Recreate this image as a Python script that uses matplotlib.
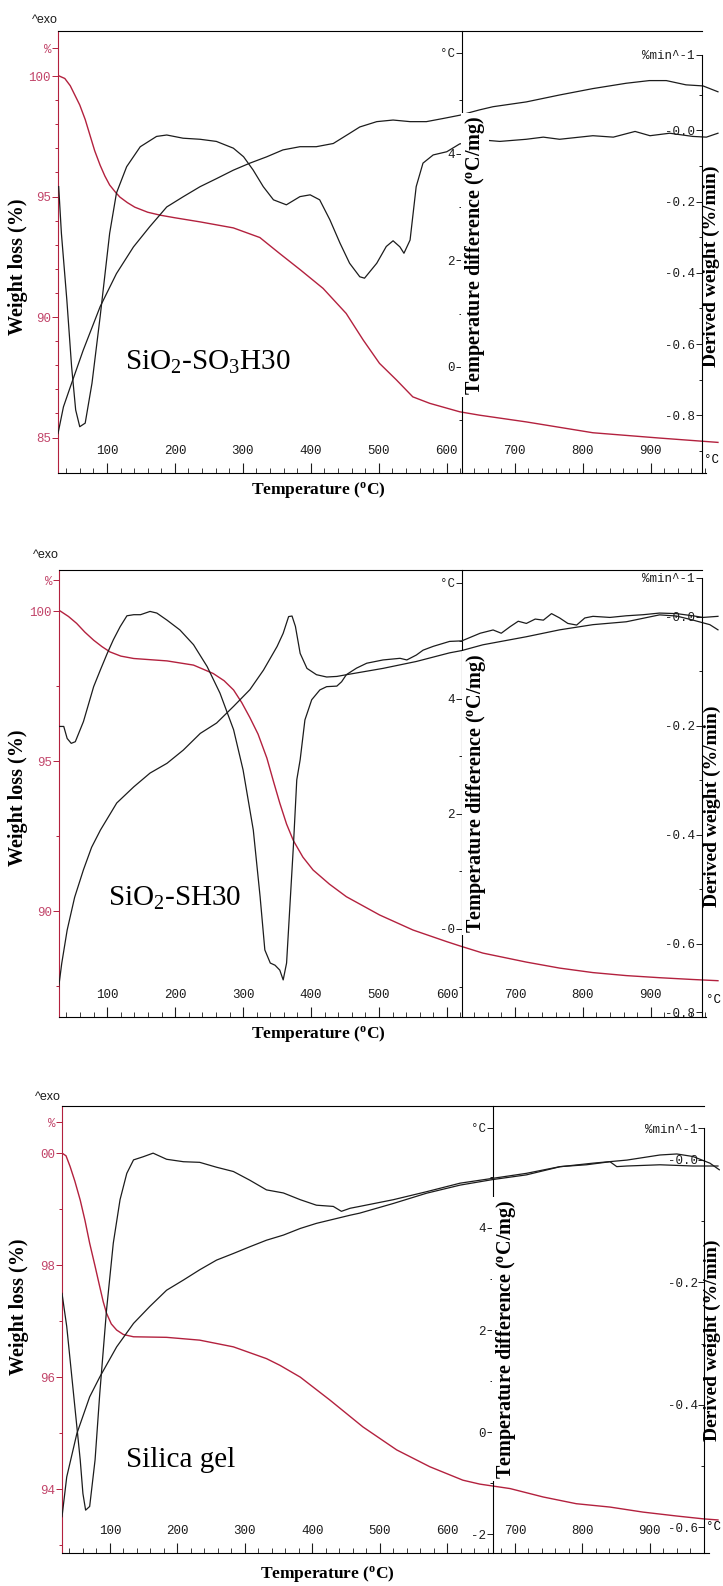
import numpy as np
import matplotlib.pyplot as plt

plt.rcParams['font.family'] = ['Liberation Mono', 'DejaVu Sans Mono']
plt.rcParams['mathtext.fontset'] = 'custom'
plt.rcParams['mathtext.rm'] = 'Liberation Serif'
plt.rcParams['mathtext.bf'] = 'Liberation Serif:bold'
plt.rcParams['mathtext.it'] = 'Liberation Serif:italic'

W, H = 723, 1586
RED = '#b3213e'
RED_TXT = '#c2456a'
INK = '#1c1c1c'
SERIF = 'Liberation Serif'

# ---------------- data (temperature in degC) ----------------
# panel 1 : SiO2-SO3H30
tga1_t = [30, 38, 46, 53, 60, 68, 75, 82, 90, 97, 104, 112, 119, 130, 141, 160, 178, 200, 237, 286, 325, 354, 385, 418, 452, 477, 501, 526, 550, 575, 619, 648, 717, 815, 913, 999]
tga1_w = [100.0, 99.9, 99.6, 99.2, 98.8, 98.2, 97.55, 96.9, 96.3, 95.85, 95.48, 95.2, 94.98, 94.75, 94.56, 94.35, 94.23, 94.12, 93.95, 93.7, 93.3, 92.64, 91.95, 91.19, 90.15, 89.05, 88.08, 87.39, 86.69, 86.42, 86.07, 85.93, 85.65, 85.2, 84.98, 84.8]
dtg1_t = [29, 33, 41, 48, 54, 60, 68, 78, 90, 104, 114, 129, 149, 173, 188, 212, 237, 261, 286, 301, 315, 330, 345, 364, 384, 399, 413, 428, 443, 457, 472, 479, 497, 511, 521, 531, 537, 546, 555, 565, 580, 600, 619, 653, 678, 717, 742, 766, 815, 845, 877, 899, 928, 962, 982, 999]
dtg1_g = [-0.158, -0.289, -0.476, -0.663, -0.785, -0.832, -0.822, -0.710, -0.523, -0.289, -0.176, -0.102, -0.046, -0.017, -0.013, -0.022, -0.025, -0.031, -0.050, -0.074, -0.111, -0.158, -0.195, -0.209, -0.186, -0.181, -0.195, -0.251, -0.317, -0.373, -0.411, -0.415, -0.373, -0.326, -0.310, -0.327, -0.345, -0.308, -0.158, -0.092, -0.069, -0.060, -0.038, -0.027, -0.031, -0.025, -0.019, -0.025, -0.015, -0.019, -0.003, -0.015, -0.008, -0.017, -0.019, -0.008]
dta1_t = [28, 36, 46, 65, 90, 114, 139, 163, 188, 212, 237, 261, 286, 310, 335, 359, 384, 408, 433, 457, 472, 497, 521, 546, 570, 595, 619, 648, 668, 717, 766, 815, 864, 898, 923, 952, 977, 999]
dta1_d = [-1.25, -0.75, -0.38, 0.31, 1.13, 1.75, 2.25, 2.63, 3.00, 3.19, 3.38, 3.53, 3.69, 3.82, 3.94, 4.07, 4.13, 4.13, 4.19, 4.38, 4.50, 4.60, 4.63, 4.60, 4.60, 4.66, 4.72, 4.82, 4.88, 4.97, 5.10, 5.22, 5.32, 5.37, 5.37, 5.29, 5.27, 5.16]

# panel 2 : SiO2-SH30
tga2_t = [31, 43, 55, 67, 80, 92, 104, 120, 139, 188, 227, 256, 272, 286, 298, 310, 322, 335, 345, 354, 364, 374, 388, 403, 427, 452, 501, 550, 600, 619, 653, 717, 766, 815, 864, 913, 962, 999]
tga2_w = [100.0, 99.82, 99.59, 99.3, 99.03, 98.82, 98.64, 98.5, 98.42, 98.34, 98.2, 97.92, 97.68, 97.37, 96.95, 96.45, 95.9, 95.1, 94.3, 93.6, 92.9, 92.35, 91.8, 91.37, 90.9, 90.48, 89.87, 89.37, 88.98, 88.84, 88.6, 88.3, 88.1, 87.95, 87.85, 87.78, 87.72, 87.68]
dtg2_t = [28, 36, 41, 47, 53, 65, 80, 90, 100, 109, 119, 129, 139, 149, 163, 173, 188, 207, 227, 247, 266, 286, 300, 315, 325, 332, 340, 347, 354, 359, 364, 374, 379, 384, 391, 401, 413, 423, 438, 445, 452, 467, 482, 506, 531, 541, 555, 565, 580, 604, 622, 649, 668, 680, 693, 705, 717, 730, 742, 754, 766, 778, 791, 803, 815, 840, 864, 889, 913, 938, 962, 977, 999]
dtg2_g = [-0.201, -0.201, -0.223, -0.232, -0.229, -0.192, -0.128, -0.097, -0.067, -0.042, -0.018, 0.002, 0.004, 0.004, 0.010, 0.007, -0.006, -0.024, -0.051, -0.091, -0.140, -0.207, -0.281, -0.391, -0.513, -0.611, -0.635, -0.639, -0.648, -0.666, -0.635, -0.421, -0.299, -0.262, -0.189, -0.152, -0.134, -0.128, -0.127, -0.119, -0.106, -0.094, -0.085, -0.079, -0.076, -0.079, -0.070, -0.061, -0.054, -0.045, -0.044, -0.030, -0.024, -0.030, -0.018, -0.008, -0.012, -0.004, -0.006, 0.006, -0.002, -0.012, -0.015, -0.002, 0.001, -0.001, 0.002, 0.004, 0.007, 0.006, 0.002, -0.001, 0.001]
dta2_t = [28, 33, 41, 52, 65, 77, 90, 114, 139, 163, 188, 212, 237, 261, 286, 310, 330, 350, 359, 367, 372, 377, 384, 394, 408, 423, 438, 457, 506, 555, 604, 622, 653, 717, 766, 815, 864, 913, 938, 962, 987, 999]
dta2_d = [-1.06, -0.60, -0.02, 0.55, 1.03, 1.42, 1.72, 2.19, 2.47, 2.71, 2.88, 3.11, 3.40, 3.58, 3.87, 4.16, 4.50, 4.91, 5.14, 5.43, 5.44, 5.26, 4.79, 4.53, 4.42, 4.38, 4.39, 4.43, 4.53, 4.65, 4.80, 4.84, 4.94, 5.08, 5.20, 5.29, 5.34, 5.46, 5.44, 5.37, 5.29, 5.20]

# panel 3 : Silica gel
tga3_t = [29, 35, 41, 48, 56, 63, 70, 78, 85, 90, 95, 102, 110, 120, 135, 184, 233, 283, 332, 352, 382, 426, 475, 525, 574, 623, 648, 693, 742, 791, 841, 890, 940, 979, 1001]
tga3_w = [100.0, 99.95, 99.76, 99.5, 99.16, 98.8, 98.39, 97.98, 97.61, 97.35, 97.14, 96.95, 96.84, 96.76, 96.72, 96.71, 96.66, 96.54, 96.33, 96.21, 96.0, 95.59, 95.11, 94.70, 94.40, 94.16, 94.09, 94.01, 93.86, 93.74, 93.68, 93.59, 93.52, 93.47, 93.45]
dtg3_t = [29, 36, 46, 56, 60, 64, 70, 78, 85, 95, 105, 115, 125, 135, 149, 164, 184, 209, 233, 258, 283, 307, 332, 357, 382, 406, 431, 443, 456, 470, 520, 569, 619, 668, 717, 767, 806, 841, 851, 866, 915, 964, 1001]
dtg3_g = [-0.218, -0.272, -0.381, -0.490, -0.545, -0.572, -0.566, -0.490, -0.381, -0.245, -0.136, -0.065, -0.022, 0.000, 0.005, 0.011, 0.001, -0.003, -0.004, -0.012, -0.019, -0.033, -0.049, -0.054, -0.065, -0.074, -0.076, -0.084, -0.079, -0.076, -0.065, -0.052, -0.038, -0.030, -0.022, -0.011, -0.008, -0.003, -0.011, -0.010, -0.008, -0.010, -0.010]
dta3_t = [29, 36, 51, 70, 85, 110, 135, 159, 184, 209, 233, 258, 283, 307, 332, 357, 382, 406, 431, 456, 470, 520, 569, 619, 668, 717, 767, 816, 866, 915, 940, 964, 989, 1003]
dta3_d = [-1.66, -0.88, -0.03, 0.69, 1.08, 1.67, 2.13, 2.46, 2.78, 2.98, 3.18, 3.37, 3.50, 3.63, 3.76, 3.86, 3.99, 4.09, 4.17, 4.25, 4.29, 4.48, 4.68, 4.84, 4.95, 5.04, 5.20, 5.27, 5.33, 5.43, 5.45, 5.40, 5.27, 5.14]

temp_ticks = [100, 200, 300, 400, 500, 600, 700, 800, 900]

w1_ticks, w1_labels = [85, 90, 95, 100], ['85', '90', '95', '100']
w2_ticks, w2_labels = [90, 95, 100], ['90', '95', '100']
w3_ticks, w3_labels = [94, 96, 98, 100], ['94', '96', '98', '00']
d1_ticks, d1_labels = [0, 2, 4], ['0', '2', '4']
d2_ticks, d2_labels = [0, 2, 4], ['-0', '2', '4']
d3_ticks, d3_labels = [-2, 0, 2, 4], ['-2', '0', '2', '4']
g1_ticks, g1_labels = [-0.8, -0.6, -0.4, -0.2, 0.0], ['-0.8', '-0.6', '-0.4', '-0.2', '-0.0']
g2_ticks, g2_labels = [-0.725, -0.6, -0.4, -0.2, 0.0], ['-0.8', '-0.6', '-0.4', '-0.2', '-0.0']
g3_ticks, g3_labels = [-0.6, -0.4, -0.2, 0.0], ['-0.6', '-0.4', '-0.2', '-0.0']

fig = plt.figure(figsize=(W / 100, H / 100), dpi=100)


def fx(x):
    return x / W


def fy(y):
    return 1 - y / H


def draw_panel(p, tga, dtg, dta):
    ax = fig.add_axes([fx(p['left']), fy(p['bottom']), fx(720 - p['left']), (p['bottom'] - p['top']) / H])
    ax.set_xlim(*p['xlim'])
    ax.set_ylim(*p['wlim'])
    ax.patch.set_alpha(0)
    ax.plot(tga[0], tga[1], color=RED, lw=1.0)

    ax.spines['right'].set_visible(False)
    ax.spines['left'].set_color(RED)
    for s in ['left', 'top', 'bottom']:
        ax.spines[s].set_linewidth(0.8)
    ax.spines['top'].set_bounds(p['xlim'][0], p['gx'])
    ax.spines['bottom'].set_bounds(p['xlim'][0], p['gx'] + 7)

    ax.set_xticks(temp_ticks)
    ax.set_xticks([t for t in range(40, 981, 20) if t % 100], minor=True)
    ax.tick_params(axis='x', which='both', direction='in', pad=-20, labelsize=9, colors=INK)
    ax.tick_params(axis='x', which='major', length=7, width=0.8)
    ax.tick_params(axis='x', which='minor', length=3.5, width=0.6)

    ax.set_yticks(p['wt'] + [p['wtop']], p['wl'] + ['%'])
    ax.set_yticks(p['wminor'], minor=True)
    ax.tick_params(axis='y', which='both', direction='out', colors=RED, labelcolor=RED_TXT,
                   labelsize=9, pad=1, width=0.7)
    ax.tick_params(axis='y', which='major', length=4)
    ax.tick_params(axis='y', which='minor', length=2.5)

    # DTA axis (middle)
    ad = ax.twinx()
    ad.set_ylim(*p['dlim'])
    ad.plot(dta[0], dta[1], color=INK, lw=0.9)
    for s in ['top', 'bottom', 'right']:
        ad.spines[s].set_visible(False)
    ad.spines['left'].set_position(('data', p['dx']))
    ad.spines['left'].set_linewidth(0.8)
    ad.yaxis.tick_left()
    ad.set_yticks(p['dt'] + [p['dtop']], p['dl'] + ['°C'])
    ad.set_yticks(p['dminor'], minor=True)
    ad.tick_params(axis='y', which='both', direction='out', labelsize=9, pad=1, width=0.7, colors=INK)
    ad.tick_params(axis='y', which='major', length=4)
    ad.tick_params(axis='y', which='minor', length=2.5)

    # DTG axis (right)
    ag = ax.twinx()
    ag.set_ylim(*p['glim'])
    ag.plot(dtg[0], dtg[1], color=INK, lw=0.9)
    for s in ['top', 'bottom', 'right']:
        ag.spines[s].set_visible(False)
    ag.spines['left'].set_position(('data', p['gx']))
    ag.spines['left'].set_bounds(p['glim'][0], p['gtop'])
    ag.spines['left'].set_linewidth(0.8)
    ag.yaxis.tick_left()
    ag.set_yticks(p['gt'] + [p['gtop']], p['gl'] + ['%min^-1'])
    ag.set_yticks(p['gminor'], minor=True)
    ag.tick_params(axis='y', which='both', direction='out', labelsize=9, pad=1, width=0.7, colors=INK)
    ag.tick_params(axis='y', which='major', length=4)
    ag.tick_params(axis='y', which='minor', length=2.5)

    # texts
    fig.text(fx(p['exo'][0]), fy(p['exo'][1]), '^exo', family='Liberation Sans', size=9,
             va='center', color=INK)
    fig.text(fx(p['ylab'][0]), fy(p['ylab'][1]), 'Weight loss (%)', family=SERIF, weight='bold',
             size=14.5, rotation=90, ha='center', va='center')
    fig.text(fx(p['xlab'][0]), fy(p['xlab'][1]), r'Temperature ($^{\mathbf{o}}$C)', family=SERIF,
             weight='bold', size=12.5, ha='center', va='center')
    fig.text(fx(p['dlab'][0]), fy(p['dlab'][1]), r'Temperature difference ($^{\mathbf{o}}$C/mg)',
             family=SERIF, weight='bold', size=14.5, rotation=90, ha='center', va='center',
             bbox=dict(facecolor='white', edgecolor='none', pad=1.5))
    fig.text(fx(p['glab'][0]), fy(p['glab'][1]), 'Derived weight (%/min)', family=SERIF,
             weight='bold', size=14, rotation=90, ha='center', va='center')
    fig.text(fx(p['sample'][0]), fy(p['sample'][1]), p['name'], family=SERIF, size=21,
             ha='left', va='center')
    fig.text(fx(p['degc'][0]), fy(p['degc'][1]), '°C', size=9, ha='left', va='center')


panels = [
    dict(left=58, top=31, bottom=473, xlim=(28, 1002), wlim=(83.53, 101.87),
         wt=w1_ticks, wl=w1_labels, wtop=101.16, wminor=[86, 87, 88, 89, 91, 92, 93, 94, 96, 97, 98, 99],
         dlim=(-1.99, 6.30), dx=622, dt=d1_ticks, dl=d1_labels, dtop=5.89, dminor=[-1, 1, 3, 5],
         glim=(-0.962, 0.279), gx=975, gt=g1_ticks, gl=g1_labels, gtop=0.213,
         gminor=[-0.9, -0.7, -0.5, -0.3, -0.1, 0.1],
         exo=(32, 20), ylab=(18, 267), xlab=(318, 490), dlab=(475, 255), glab=(711, 266),
         sample=(125, 362), name=r'SiO$_\mathregular{2}$-SO$_\mathregular{3}$H30', degc=(704, 460)),
    dict(left=59, top=570, bottom=1017, xlim=(29, 1002), wlim=(86.47, 101.37),
         wt=w2_ticks, wl=w2_labels, wtop=101.03, wminor=[87.5, 92.5, 97.5],
         dlim=(-1.53, 6.24), dx=622, dt=d2_ticks, dl=d2_labels, dtop=6.02, dminor=[-1, 1, 3, 5],
         glim=(-0.734, 0.086), gx=975, gt=g2_ticks, gl=g2_labels, gtop=0.072,
         gminor=[-0.5, -0.3, -0.1],
         exo=(33, 555), ylab=(18, 798), xlab=(318, 1034), dlab=(476, 793), glab=(712, 806),
         sample=(108, 898), name=r'SiO$_\mathregular{2}$-SH30', degc=(706, 1000)),
    dict(left=62, top=1106, bottom=1553, xlim=(29, 1004), wlim=(92.86, 100.84),
         wt=w3_ticks, wl=w3_labels, wtop=100.55, wminor=[93, 95, 97, 99],
         dlim=(-2.37, 6.39), dx=667, dt=d3_ticks, dl=d3_labels, dtop=5.96, dminor=[-1, 1, 3, 5],
         glim=(-0.642, 0.088), gx=981, gt=g3_ticks, gl=g3_labels, gtop=0.052,
         gminor=[-0.5, -0.3, -0.1],
         exo=(35, 1097), ylab=(19, 1307), xlab=(327, 1574), dlab=(506, 1339), glab=(712, 1340),
         sample=(126, 1460), name='Silica gel', degc=(706, 1527)),
]

curves = [
    ((tga1_t, tga1_w), (dtg1_t, dtg1_g), (dta1_t, dta1_d)),
    ((tga2_t, tga2_w), (dtg2_t, dtg2_g), (dta2_t, dta2_d)),
    ((tga3_t, tga3_w), (dtg3_t, dtg3_g), (dta3_t, dta3_d)),
]

for p, (tga, dtg, dta) in zip(panels, curves):
    draw_panel(p, tga, dtg, dta)

fig.savefig('out.png', dpi=100)
